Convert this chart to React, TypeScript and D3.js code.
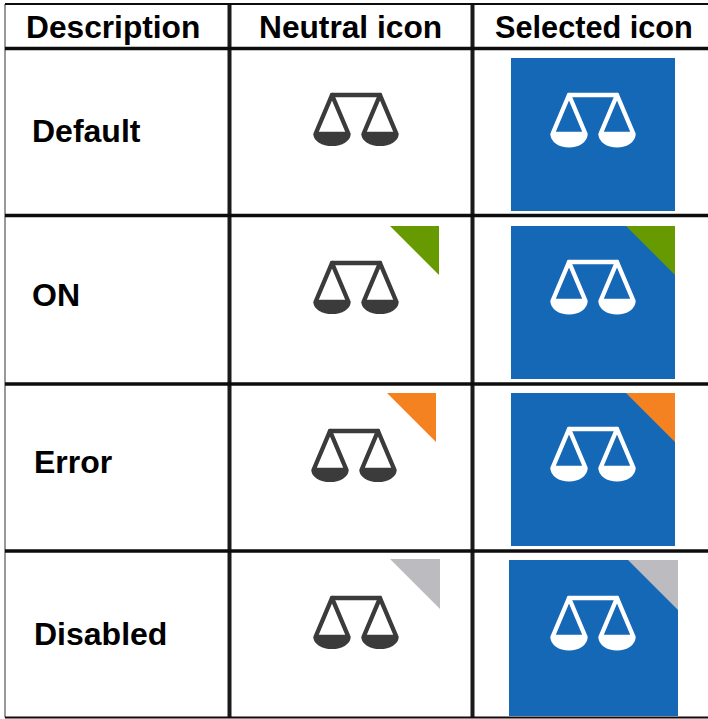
import React, { useEffect, useRef } from 'react';
import * as d3 from 'd3';

const headers = ['Description', 'Neutral icon', 'Selected icon'];
const rowNames = ['Default', 'ON', 'Error', 'Disabled'];
const cornerColors = [null, '#669a00', '#f58220', '#bcbcc0'];

const BLUE = '#1468b5';
const INK = '#3a3a3a';

// table rules
const rowEdges = [4, 48.5, 215.5, 384, 551, 717.5];
const colEdges = [5, 229.5, 472.5];
const RIGHT = 708;

// small per row offsets, the source picture is not quite regular
const layout = [
  { labelX: 32, labelY: 142, nx: 356, ny: 95, box: [511, 58, 164, 153], sy: 95, corner: 0 },
  { labelX: 32, labelY: 306, nx: 356, ny: 263, box: [511, 226, 164, 153], sy: 262, nCorner: [439, 226], corner: 49 },
  { labelX: 34, labelY: 473, nx: 354, ny: 431, box: [511, 393, 164, 153], sy: 429, nCorner: [436, 393], corner: 49 },
  { labelX: 34, labelY: 645, nx: 356, ny: 598, box: [509, 560, 169, 156], sy: 598, nCorner: [440, 559], corner: 50 },
];

function drawScale(g: any, cx: number, top: number, color: string, panGrow: number) {
  const icon = g.append('g')
    .attr('transform', `translate(${cx},${top})`)
    .attr('filter', 'url(#soft)');
  const bar = d3.path();
  bar.moveTo(-24, 0);
  bar.lineTo(24, 0);
  icon.append('path').attr('d', bar.toString()).attr('stroke', color).attr('stroke-width', 4.4).attr('stroke-linecap', 'round');

  [-24, 24].forEach((dx) => {
    const tri = d3.path();
    tri.moveTo(dx, 0);
    tri.lineTo(dx - 16.5, 39);
    tri.lineTo(dx + 16.5, 39);
    tri.closePath();
    icon.append('path').attr('d', tri.toString())
      .attr('fill', 'none').attr('stroke', color).attr('stroke-width', 4.4).attr('stroke-linejoin', 'round');

    const pan = d3.arc()({ innerRadius: 0, outerRadius: 18.5, startAngle: Math.PI / 2, endAngle: Math.PI * 1.5 } as any);
    icon.append('path').attr('d', pan as string)
      .attr('transform', `translate(${dx},39.5) scale(1,${(11.5 + panGrow) / 18.5})`)
      .attr('fill', color);
  });
}

function drawCorner(g: any, x: number, y: number, size: number, color: string) {
  const tri = d3.path();
  tri.moveTo(x - size, y);
  tri.lineTo(x, y);
  tri.lineTo(x, y + size);
  tri.closePath();
  g.append('path').attr('d', tri.toString()).attr('fill', color);
}

export default function App() {
  const ref = useRef<SVGSVGElement>(null);

  useEffect(() => {
    const svg = d3.select(ref.current);
    svg.selectAll('*').remove();

    const font = '"Liberation Sans", Arial, sans-serif';

    svg.append('defs').append('filter').attr('id', 'soft')
      .attr('x', '-10%').attr('y', '-10%').attr('width', '120%').attr('height', '120%')
      .append('feGaussianBlur').attr('stdDeviation', 0.5);

    // rules
    svg.selectAll('line.col').data(colEdges).enter().append('line')
      .attr('class', 'col')
      .attr('x1', (d) => d).attr('x2', (d) => d)
      .attr('y1', rowEdges[0]).attr('y2', rowEdges[5])
      .attr('stroke', (d, i) => (i === 0 ? '#777' : '#1a1a1a'))
      .attr('stroke-width', (d, i) => (i === 0 ? 1.5 : 4));

    svg.selectAll('line.row').data(rowEdges).enter().append('line')
      .attr('class', 'row')
      .attr('x1', colEdges[0]).attr('x2', RIGHT)
      .attr('y1', (d) => d).attr('y2', (d) => d)
      .attr('stroke', '#0d0d0d').attr('stroke-width', (d, i) => (i === 0 || i === 5 ? 2 : 3.5));

    // header
    const headX = [26, 259, 495];
    const headSize = [31.7, 31.7, 30.7];
    svg.selectAll('text.head').data(headers).enter().append('text')
      .attr('class', 'head')
      .attr('x', (d, i) => headX[i]).attr('y', 38)
      .attr('font-family', font).attr('font-weight', 700)
      .attr('font-size', (d, i) => headSize[i])
      .attr('fill', '#000')
      .text((d) => d);

    rowNames.forEach((name, i) => {
      const p: any = layout[i];
      const g = svg.append('g');

      g.append('text')
        .attr('x', p.labelX).attr('y', p.labelY)
        .attr('font-family', font).attr('font-weight', 700).attr('font-size', 32)
        .attr('fill', '#000')
        .text(name);

      drawScale(g, p.nx, p.ny, INK, 0);

      const [bx, by, bw, bh] = p.box;
      g.append('rect').attr('x', bx).attr('y', by).attr('width', bw).attr('height', bh).attr('fill', BLUE);
      drawScale(g, 593, p.sy, '#ffffff', 1.5);

      const color = cornerColors[i];
      if (color) {
        drawCorner(g, p.nCorner[0], p.nCorner[1], p.corner, color);
        drawCorner(g, bx + bw, by, p.corner, color);
      }
    });
  }, []);

  return (
    <svg
      ref={ref}
      width={708}
      height={719}
      style={{ position: 'absolute', left: 0, top: 0, background: '#fff' }}
    />
  );
}
